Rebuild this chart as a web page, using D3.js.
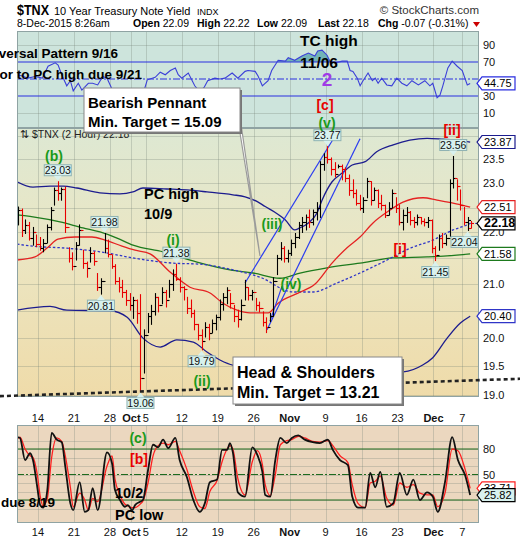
<!DOCTYPE html>
<html><head><meta charset="utf-8">
<script src="https://cdn.jsdelivr.net/npm/d3@7"></script>
<style>body{margin:0;background:#fff;}svg{display:block;font-family:"Liberation Sans",Arial,sans-serif;}</style>
</head><body><svg id="c" width="520" height="540"></svg>
<script>
// ---------- DATA ----------
// session index: 0 = 14 Sep 2015, 59 = 7 Dec 2015 (trading sessions)
const tickT = [0,5,10,13,15,20,25,30,35,40,45,50,55,59];
const tickLabel = ["14","21","28","Oct","5","12","19","26","Nov","9","16","23","Dec","7"];
const tickBold = [false,false,false,true,false,false,false,false,true,false,false,false,true,false];
const priceTicks = [19.0,19.5,20.0,20.5,21.0,21.5,22.0,22.5,23.0,23.5,24.0];
const rsiTicks = [10,30,50,70,90];
const stochTicks = [20,50,80];

// 2-hour bars [high, low, close], two per session from 9 Sep (-3) to 7 Dec (59), then 8 Dec
const bars = [
 [22.51,22.15,22.45],[22.47,21.92,22.05], [22.25,21.98,22.15],[22.20,21.85,21.90],
 [22.10,21.75,22.00],[21.95,21.72,21.78], [21.90,21.65,21.70],[21.86,21.62,21.80],
 [22.15,21.80,22.10],[22.50,22.05,22.45], [22.90,22.55,22.85],[23.03,22.65,22.80],
 [22.90,22.65,22.88],[22.92,22.00,22.10], [21.70,21.42,21.50],[21.60,21.27,21.35],
 [21.80,21.46,21.75],[22.15,21.75,22.05], [21.65,21.30,21.40],[21.42,21.13,21.30],
 [21.70,21.42,21.60],[21.62,21.36,21.45], [21.20,20.88,20.95],[21.10,20.81,21.05],
 [21.98,21.60,21.70],[21.85,21.52,21.58], [21.55,21.30,21.35],[21.37,21.00,21.05],
 [21.12,20.85,20.95],[21.07,20.75,20.85], [20.88,20.60,20.70],[20.82,20.51,20.60],
 [20.75,20.36,20.70],[20.70,20.27,20.45], [20.80,19.06,19.30],[20.15,19.38,20.05],
 [20.45,20.10,20.40],[20.60,20.25,20.50], [20.82,20.42,20.75],[20.75,20.48,20.60],
 [20.93,20.63,20.85],[20.88,20.57,20.70], [21.07,20.75,21.00],[21.27,20.88,21.20],
 [21.38,21.07,21.10],[21.12,20.85,20.95], [20.95,20.70,20.90],[20.75,20.45,20.55],
 [20.70,20.38,20.45],[20.51,20.15,20.25], [20.25,19.97,20.05],[20.15,19.79,19.95],
 [20.28,20.02,20.20],[20.25,19.97,20.10], [20.33,20.10,20.28],[20.42,20.15,20.38],
 [20.70,20.33,20.62],[20.82,20.51,20.75], [20.93,20.63,20.88],[20.82,20.55,20.65],
 [20.60,20.30,20.40],[20.51,20.20,20.35], [20.70,20.33,20.60],[21.07,20.70,20.95],
 [20.93,20.70,20.80],[20.88,20.70,20.85], [20.73,20.51,20.60],[20.66,20.48,20.55],
 [20.48,20.22,20.30],[20.37,20.10,20.20], [20.45,20.30,20.40],[21.12,20.40,21.05],
 [21.55,21.18,21.50],[21.80,21.46,21.70], [21.72,21.42,21.50],[21.65,21.42,21.60],
 [21.85,21.55,21.80],[21.98,21.70,21.92], [22.20,21.88,22.15],[22.30,22.00,22.20],
 [22.35,22.05,22.30],[22.45,22.10,22.20], [22.45,22.15,22.40],[22.60,22.25,22.50],
 [23.45,22.30,23.40],[23.62,23.27,23.55], [23.77,23.42,23.50],[23.53,23.17,23.30],
 [23.43,23.13,23.20],[23.38,23.32,23.35], [23.38,23.07,23.30],[23.32,23.03,23.10],
 [23.17,22.75,22.85],[23.07,22.70,22.80], [22.86,22.55,22.60],[22.75,22.45,22.50],
 [22.70,22.40,22.65],[23.10,22.70,23.05], [23.03,22.55,22.65],[22.90,22.65,22.85],
 [22.86,22.50,22.60],[22.75,22.45,22.55], [22.55,22.30,22.35],[22.60,22.35,22.50],
 [22.86,22.50,22.80],[22.70,22.40,22.50], [22.55,22.15,22.20],[22.45,22.05,22.35],
 [22.50,22.20,22.42],[22.42,22.15,22.25], [22.30,22.10,22.20],[22.35,22.15,22.30],
 [22.30,22.17,22.22],[22.27,22.13,22.20], [22.30,22.10,22.25],[22.25,21.60,21.70],
 [21.72,21.45,21.55],[21.95,21.65,21.90], [21.98,21.70,21.80],[21.95,21.75,21.90],
 [23.07,21.92,23.00],[23.56,22.90,23.10], [23.07,22.65,22.95],[22.86,22.45,22.55],
 [22.50,22.15,22.20],[22.30,22.04,22.25],
 [22.22,22.09,22.18]
];
const firstOpen = 22.30, lastOpen = 22.09, lastValue = 22.18;

const upperBand = [[-2.92,23.03],[-0.7,22.92],[1.7,22.94],[3.5,22.94],[5.4,22.90],[8.6,22.80],[11.4,22.78],[13.2,22.82],[14.6,22.90],[17.9,22.88],[20.7,22.86],[23.5,22.82],[27.1,22.76],[28.8,22.72],[30.5,22.62],[31.6,22.52],[33.0,22.40],[34.4,22.25],[35.7,22.05],[36.4,22.09],[37.6,22.19],[38.8,22.39],[39.5,22.65],[40.9,23.03],[42.3,23.21],[43.7,23.38],[45.5,23.45],[47.1,23.66],[49.4,23.81],[51.7,23.91],[54.1,23.95],[56.3,23.93],[58.7,23.90],[60.1,23.87]];
const lowerBand = [[-2.92,20.51],[1.67,20.58],[4.03,20.51],[10.0,20.50],[12.4,20.38],[14.6,20.00],[17.0,19.84],[19.3,19.97],[21.6,19.93],[23.5,19.75],[25.3,19.61],[27.1,19.52],[33,19.45],[40,19.40],[47,19.38],[50.8,19.40],[53.5,19.52],[54.9,19.65],[56.9,20.00],[58.7,20.27],[60.1,20.40]];
const redMA = [[-2.92,21.46],[-0.42,21.52],[1.39,21.71],[2.78,21.87],[5.15,21.91],[7.51,21.91],[9.32,21.85],[11.68,21.73],[13.49,21.65],[15.58,21.58],[18.36,21.23],[21.14,20.94],[23.92,20.83],[25.73,20.64],[27.68,20.51],[29.49,20.46],[32.0,20.46],[33.38,20.64],[36.16,20.83],[38.53,21.0],[40.89,21.40],[42.98,21.70],[44.78,21.91],[46.59,22.19],[48.96,22.45],[50.76,22.61],[53.55,22.70],[55.49,22.65],[57.72,22.59],[60.1,22.51]];
const greenMA = [[-2.92,22.35],[-0.7,22.31],[3.06,22.21],[6.26,22.09],[8.62,22.01],[10.99,21.89],[13.21,21.75],[17.39,21.62],[22.11,21.42],[26.70,21.27],[29.90,21.21],[33.66,21.11],[36.44,21.21],[40.19,21.31],[44.78,21.40],[49.37,21.50],[54.1,21.52],[56.89,21.54],[60.1,21.58]];
const dottedMA = [[-2.92,21.77],[-0.7,21.73],[4.03,21.69],[8.62,21.62],[13.21,21.50],[18.78,21.40],[22.53,21.38],[27.12,21.27],[30.88,21.13],[35.47,20.85],[38.25,20.85],[41.59,21.02],[44.78,21.21],[48.54,21.46],[51.74,21.69],[54.94,21.85],[57.72,22.05],[59.67,22.15],[60.1,22.18]];

const trendLines = [[[28.79,21.02],[41.59,24.07]],[[31.85,20.15],[44.78,23.94]],[[32.27,20.31],[33.94,20.96]]];
const neckline = [[-5.29,18.98],[67.04,19.28]];

const pivotT = [2.75,9.25,8.75,19.25,22.75,14.25,40.25,57.75,55.25,59.75];
const pivotV = [23.03,21.98,20.81,21.38,19.79,19.06,23.77,23.56,21.45,22.04];
const pivotSide = ["up","up","down","up","down","down","up","up","down","down"];

const rsiPoints = [[-2.9,55],[-2.2,53.5],[-1.4,51],[-0.4,53],[0.6,51],[1.4,65],[2.4,69],[2.8,66.5],[3.3,55],[4.0,42],[4.5,48],[4.9,36],[5.6,45],[6.1,37],[7.0,45],[7.6,45],[8.3,43],[9.0,53],[9.6,51],[10.3,38],[11.4,33],[12.5,30],[13.5,31],[14.3,22],[14.7,35],[15.2,49],[16.3,52],[17.0,58],[17.7,55],[18.4,60],[19.1,63],[19.5,55],[20.0,51],[20.9,57],[21.8,42],[22.5,35],[23.1,40],[23.6,48],[24.6,51],[25.3,50],[26.0,51],[27.0,57],[27.8,51],[28.8,59],[29.2,60],[30.2,59],[30.6,53.5],[31.2,42],[32.0,48],[32.5,60],[33.4,72],[34.4,71],[34.8,75],[35.7,72],[36.7,77],[37.6,80.5],[38.5,77],[38.9,83],[39.5,84],[40.2,78],[40.6,71],[41.3,69],[42.3,71],[43.0,71],[43.4,60],[43.8,59],[44.4,51],[44.8,42],[45.2,48],[45.9,57],[46.5,48],[46.9,51],[47.3,45],[47.8,51],[48.5,43],[49.2,42],[49.9,51],[50.6,45],[51.3,42],[52.0,48],[52.9,43],[53.8,48],[54.5,42],[54.9,45],[55.5,28],[55.9,31],[56.3,42],[57.0,63],[57.6,71],[58.3,65],[59.0,60],[59.7,43],[60.1,44.75]];
const rsiLast = 44.75;

const stochT = [-2.9,-2.5,-1.8,-1.1,-0.7,-0.1,0.3,0.7,1.3,1.9,2.6,3.3,3.8,4.5,4.9,5.8,6.5,7.0,7.6,8.3,9.6,10.3,10.7,11.4,12.1,12.5,13.1,13.5,14.2,14.6,15.3,16.0,16.7,17.4,18.1,19.1,19.7,20.7,21.6,22.5,23.2,23.9,24.9,25.6,26.3,26.7,27.1,27.8,28.8,29.8,30.5,31.2,31.6,32.3,33.0,33.7,34.6,35.3,36.2,37.1,38.2,39.2,40.3,41.0,42.0,43.1,43.7,44.5,45.5,46.2,46.9,47.6,48.5,49.4,50.3,51.3,52.2,53.1,54.1,54.9,55.6,56.6,57.6,58.4,59.4,60.1];
const stochK = [94,93,67,75,67,35,14,11,32,99,91,88,59,16,8,41,6,8,34,8,76,63,32,20,12,14,8,14,18,20,55,85,82,91,81,93,67,47,20,6,16,41,44,79,79,87,76,29,24,82,73,53,26,24,67,93,87,93,96,91,88,87,91,79,67,61,24,11,11,52,35,53,12,16,52,26,44,20,29,24,6,41,94,67,49,25.82];
const stochD = [92,94,80,72,70,50,25,13,22,70,93,89,72,35,12,28,20,8,22,18,60,72,45,26,15,13,11,11,15,19,40,72,84,87,85,89,78,56,30,12,10,30,43,65,80,84,80,45,26,65,78,62,38,25,50,85,90,91,95,93,89,88,90,84,72,64,38,16,11,40,42,48,22,14,40,35,38,28,26,26,12,28,80,78,56,33.71];

// ---------- LAYOUT ----------
const svg = d3.select("#c");
const X0 = 17, X1 = 479;
const P1 = {t:31, b:128}, P2 = {t:128, b:397}, P3 = {t:425, b:523};
const x = d3.scaleLinear().domain([-2.92, 61.33]).range([X0, X1]);
const yP = d3.scaleLog().domain([19, 24]).range([395, 136]);
const yR = d3.scaleLinear().domain([0, 100]).range([121.5, 36.5]);
const yS = d3.scaleLinear().domain([0, 100]).range([517, 432]);

const defs = svg.append("defs");
const gr = defs.append("linearGradient").attr("id","pg").attr("x1",0).attr("y1",0).attr("x2",0).attr("y2",1);
gr.append("stop").attr("offset","0%").attr("stop-color","#dde8d3");
gr.append("stop").attr("offset","45%").attr("stop-color","#ebe6c3");
gr.append("stop").attr("offset","100%").attr("stop-color","#efdba9");
[["cp1",P1],["cp2",P2],["cp3",P3]].forEach(([id,p])=>{
  defs.append("clipPath").attr("id",id).append("rect").attr("x",X0).attr("y",p.t).attr("width",X1-X0).attr("height",p.b-p.t);
});
defs.append("clipPath").attr("id","cpAbove70").append("rect").attr("x",X0).attr("y",P1.t).attr("width",X1-X0).attr("height",yR(70)-P1.t);

// backgrounds
svg.append("rect").attr("x",X0).attr("y",P1.t).attr("width",X1-X0).attr("height",P1.b-P1.t).attr("fill","#cde4dc");
svg.append("rect").attr("x",X0).attr("y",P2.t).attr("width",X1-X0).attr("height",P2.b-P2.t).attr("fill","url(#pg)");
svg.append("rect").attr("x",X0).attr("y",P3.t).attr("width",X1-X0).attr("height",P3.b-P3.t).attr("fill","#ebd7bf");

// grids
const gridCol = "rgba(110,125,115,0.28)";
const grid = svg.append("g");
[P1,P2,P3].forEach(p=>{
  tickT.forEach(t=>grid.append("line").attr("x1",Math.round(x(t))+0.5).attr("x2",Math.round(x(t))+0.5).attr("y1",p.t).attr("y2",p.b).attr("stroke",gridCol));
});
priceTicks.forEach(v=>grid.append("line").attr("x1",X0).attr("x2",X1).attr("y1",Math.round(yP(v))+0.5).attr("y2",Math.round(yP(v))+0.5).attr("stroke",gridCol));
[10,90].forEach(v=>grid.append("line").attr("x1",X0).attr("x2",X1).attr("y1",Math.round(yR(v))+0.5).attr("y2",Math.round(yR(v))+0.5).attr("stroke",gridCol));
d3.range(10,100,10).forEach(v=>grid.append("line").attr("x1",X0).attr("x2",X1).attr("y1",Math.round(yS(v))+0.5).attr("y2",Math.round(yS(v))+0.5).attr("stroke",gridCol));

// ---------- RSI (top) ----------
const g1 = svg.append("g").attr("clip-path","url(#cp1)");
g1.append("path").datum(rsiPoints).attr("clip-path","url(#cpAbove70)")
  .attr("d", d3.area().x(d=>x(d[0])).y0(yR(70)).y1(d=>yR(d[1])))
  .attr("fill","#62aab0").attr("opacity",0.85);
[70,30].forEach(v=>g1.append("line").attr("x1",X0).attr("x2",X1).attr("y1",yR(v)).attr("y2",yR(v)).attr("stroke","#2a2ee0").attr("stroke-width",1.2));
g1.append("line").attr("x1",X0).attr("x2",X1).attr("y1",yR(50)).attr("y2",yR(50)).attr("stroke","#2a2ee0").attr("stroke-dasharray","7,2,2,2");
g1.append("path").datum(rsiPoints).attr("d", d3.line().x(d=>x(d[0])).y(d=>yR(d[1]))).attr("fill","none").attr("stroke","#3b3fd8").attr("stroke-width",1.1);

// ---------- PRICE ----------
const g2 = svg.append("g").attr("clip-path","url(#cp2)");
const lineP = d3.line().x(d=>x(d[0])).y(d=>yP(d[1])).curve(d3.curveMonotoneX);
g2.append("path").datum(greenMA).attr("d",lineP).attr("fill","none").attr("stroke","#1d7a1d").attr("stroke-width",1.3);
g2.append("path").datum(dottedMA).attr("d",lineP).attr("fill","none").attr("stroke","#2f35c8").attr("stroke-width",1.3).attr("stroke-dasharray","2.5,2");
g2.append("path").datum(redMA).attr("d",lineP).attr("fill","none").attr("stroke","#e52222").attr("stroke-width",1.3);
g2.append("path").datum(upperBand).attr("d",lineP).attr("fill","none").attr("stroke","#1c1c8e").attr("stroke-width",1.3);
g2.append("path").datum(lowerBand).attr("d",lineP).attr("fill","none").attr("stroke","#1c1c8e").attr("stroke-width",1.3);
g2.append("line").attr("x1",x(60.1)).attr("x2",X1).attr("y1",yP(lastValue)).attr("y2",yP(lastValue)).attr("stroke","#2f35c8").attr("stroke-dasharray","3,2");
trendLines.forEach(l=>g2.append("line").attr("x1",x(l[0][0])).attr("y1",yP(l[0][1])).attr("x2",x(l[1][0])).attr("y2",yP(l[1][1])).attr("stroke","#2a3cf0").attr("stroke-width",1.2));

// bars
let prev = firstOpen;
bars.forEach((b,i)=>{
  const t = i < 126 ? -3 + Math.floor(i/2) + (i%2 ? 0.75 : 0.25) : 60.15;
  const open = i === 126 ? lastOpen : prev;
  const col = b[2] >= prev ? "#000" : "#e80000";
  const cx = Math.round(x(t)) + 0.5;
  const gg = g2.append("g").attr("stroke",col).attr("stroke-width",1.1);
  gg.append("line").attr("x1",cx).attr("x2",cx).attr("y1",yP(b[0])-0.5).attr("y2",yP(b[1])+0.5);
  gg.append("line").attr("x1",cx-2.5).attr("x2",cx).attr("y1",Math.round(yP(open))+0.5).attr("y2",Math.round(yP(open))+0.5);
  gg.append("line").attr("x1",cx).attr("x2",cx+2.5).attr("y1",Math.round(yP(b[2]))+0.5).attr("y2",Math.round(yP(b[2]))+0.5);
  prev = b[2];
});

// ---------- STOCH (bottom) ----------
const g3 = svg.append("g").attr("clip-path","url(#cp3)");
[80,20].forEach(v=>g3.append("line").attr("x1",X0).attr("x2",X1).attr("y1",yS(v)).attr("y2",yS(v)).attr("stroke","#1e6a1e").attr("stroke-width",1.2));
g3.append("line").attr("x1",X0).attr("x2",X1).attr("y1",yS(50)).attr("y2",yS(50)).attr("stroke","#1e6a1e").attr("stroke-dasharray","7,2,2,2");
const lineS = (arr)=>d3.line().x((d,i)=>x(stochT[i])).y(d=>yS(d)).curve(d3.curveMonotoneX)(arr);
g3.append("path").attr("d",lineS(stochD)).attr("fill","none").attr("stroke","#ff2020").attr("stroke-width",1.3);
g3.append("path").attr("d",lineS(stochK)).attr("fill","none").attr("stroke","#111").attr("stroke-width",1.8);

// panel borders
[P1,P2,P3].forEach(p=>svg.append("rect").attr("x",X0+0.5).attr("y",p.t+0.5).attr("width",X1-X0-1).attr("height",p.b-p.t-1).attr("fill","none").attr("stroke","#8fa3a3"));

// ---------- AXES ----------
const tagPriceVals = [23.87,22.51,22.18,21.58,20.40];
const ax = svg.append("g").attr("font-size",11).attr("fill","#111");
priceTicks.forEach(v=>{
  const yy = yP(v);
  if (tagPriceVals.some(tv=>Math.abs(yP(tv)-yy) < 8)) return;
  ax.append("text").attr("x",483).attr("y",yy+4).text(v.toFixed(1));
});
rsiTicks.forEach(v=>{ if (Math.abs(yR(v)-yR(rsiLast))<8) return; ax.append("text").attr("x",483).attr("y",yR(v)+4).text(v); });
stochTicks.forEach(v=>{ if (Math.abs(yS(v)-yS(25.82))<9) return; ax.append("text").attr("x",483).attr("y",yS(v)+4).text(v); });
[422,536].forEach(by=>{
  tickT.forEach((t,i)=>ax.append("text").attr("x",x(t)).attr("y",by).attr("text-anchor","middle")
    .attr("font-weight",tickBold[i]?"bold":"normal").text(tickLabel[i]));
});

// ---------- HEADER ----------
const hd = svg.append("g").attr("fill","#000");
hd.append("text").attr("x",17).attr("y",15).attr("font-size",15).attr("font-weight","bold")
  .attr("textLength",32).attr("lengthAdjust","spacingAndGlyphs").text("$TNX");
hd.append("text").attr("x",54).attr("y",15).attr("font-size",11).text("10 Year Treasury Note Yield");
hd.append("text").attr("x",197).attr("y",15).attr("font-size",9).text("INDX");
hd.append("text").attr("x",479).attr("y",14).attr("font-size",11.5).attr("text-anchor","end").attr("fill","#333").text("© StockCharts.com");
hd.append("text").attr("x",17).attr("y",27).attr("font-size",10.5).text("8-Dec-2015 8:26am");
[["Open","22.09",133],["High","22.22",197],["Low","22.09",257],["Last","22.18",318],["Chg","-0.07 (-0.31%)",378]].forEach(([k,v,px])=>{
  const t = hd.append("text").attr("x",px).attr("y",27).attr("font-size",10.5);
  t.append("tspan").attr("font-weight","bold").text(k+" ");
  t.append("tspan").text(v);
});
hd.append("path").attr("d","M473,22 L480,22 L476.5,27 Z").attr("fill","#c00");

svg.append("text").attr("x",20).attr("y",138).attr("font-size",10.5).attr("fill","#222").text("⇅ $TNX (2 Hour) 22.18");

// ---------- PIVOT LABELS ----------
const pv = svg.append("g").attr("font-size",10.5);
pivotT.forEach((t,i)=>{
  const cx = x(t), vy = yP(pivotV[i]);
  const w = 27, h = 11;
  const up = pivotSide[i] === "up";
  const tip = up ? vy - 1 : vy + 1;
  const by = up ? tip - 5 - h : tip + 5;
  const baseY = up ? tip - 5 : tip + 5;
  let bx = cx - w/2;
  if (bx + w > X1 - 1) bx = X1 - 1 - w;
  pv.append("rect").attr("x",bx).attr("y",by).attr("width",w).attr("height",h).attr("fill","#d8f1ee").attr("stroke","#8fb3b3");
  pv.append("path").attr("d",`M${cx-4},${baseY} L${cx},${tip} L${cx+4},${baseY} Z`).attr("fill","#d8f1ee");
  pv.append("text").attr("x",bx+w/2).attr("y",by+h-1.5).attr("text-anchor","middle").attr("fill","#111").text(pivotV[i].toFixed(2));
});

// neckline (dashed, spans the whole picture)
svg.append("line").attr("x1",x(neckline[0][0])).attr("y1",yP(neckline[0][1])).attr("x2",x(neckline[1][0])).attr("y2",yP(neckline[1][1]))
  .attr("stroke","#222").attr("stroke-width",2.6).attr("stroke-dasharray","4,3");

// callout boxes
svg.append("path").attr("d","M240,117 L240,133 L260,256 Z").attr("fill","#fff").attr("stroke","#9a9a9a").attr("stroke-width",1.2);
svg.append("rect").attr("x",86).attr("y",90).attr("width",156).attr("height",44).attr("fill","#777");
svg.append("rect").attr("x",84).attr("y",88).attr("width",156).attr("height",44).attr("fill","#fff").attr("stroke","#888");
svg.append("rect").attr("x",235).attr("y",359).attr("width",169).attr("height",47).attr("fill","#777");
svg.append("rect").attr("x",233).attr("y",357).attr("width",169).attr("height",47).attr("fill","#fff").attr("stroke","#888");

// ---------- ANNOTATIONS ----------
const an = svg.append("g").attr("font-weight","bold");
function txt(px,py,s,size,col,anchor){ an.append("text").attr("x",px).attr("y",py).attr("font-size",size).attr("fill",col||"#000").attr("text-anchor",anchor||"start").text(s); }
txt(118,58,"Reversal Pattern 9/16",13.5,"#000","end");
txt(142,79,"prior to PC high due 9/21",13.5,"#000","end");
txt(300,46,"TC high",15.5);
txt(300,68,"11/06",15.5);
txt(327,86,"2",19,"#a03be6","middle");
txt(144,199,"PC high",14.5);
txt(144,219,"10/9",14.5);
txt(54,161,"(b)",14,"#1a9a1a","middle");
txt(173,245,"(i)",14,"#1a9a1a","middle");
txt(202,386,"(ii)",14,"#1a9a1a","middle");
txt(272,229,"(iii)",14,"#1a9a1a","middle");
txt(291,289,"(iv)",14,"#1a9a1a","middle");
txt(327,128,"(v)",14,"#1a9a1a","middle");
txt(325,110,"[c]",14,"#e80000","middle");
txt(452,135,"[ii]",14,"#e80000","middle");
txt(400,254,"[i]",14,"#e80000","middle");
txt(138,443,"(c)",14,"#1a9a1a","middle");
txt(139,464,"[b]",14,"#e80000","middle");
txt(115,498,"10/2",14.5);
txt(115,520,"PC low",14.5);
txt(55,507,"due 8/19",13.5,"#000","end");
txt(88,108,"Bearish Pennant",15);
txt(88,127,"Min. Target = 15.09",15);
txt(237,378,"Head & Shoulders",16);
txt(237,398,"Min. Target = 13.21",16);

// ---------- RIGHT TAGS ----------
function tag(cy,label,stroke,fill,bold){
  const g = svg.append("g");
  g.append("path").attr("d",`M477,${cy} L482,${cy-6.5} L515,${cy-6.5} L515,${cy+6.5} L482,${cy+6.5} Z`).attr("fill",fill).attr("stroke",stroke).attr("stroke-width",1.2);
  g.append("text").attr("x",484).attr("y",cy+4).attr("font-size",bold?12.5:11).attr("font-weight",bold?"bold":"normal").attr("fill","#000").text(label);
}
tag(yR(rsiLast),"44.75","#2a2ee0","#fff");
tag(yP(23.87),"23.87","#1c1c8e","#fff");
tag(yP(22.51),"22.51","#e52222","#fff");
tag(yP(21.58),"21.58","#1d7a1d","#fff");
tag(yP(20.40),"20.40","#2f35c8","#fff");
tag(yP(lastValue),"22.18","#000","#fff",true);
tag(yS(stochD[stochD.length-1]),"33.71","#ff2020","#fff");
tag(yS(stochK[stochK.length-1]),"25.82","#000","#d8f1ee");
</script></body></html>
